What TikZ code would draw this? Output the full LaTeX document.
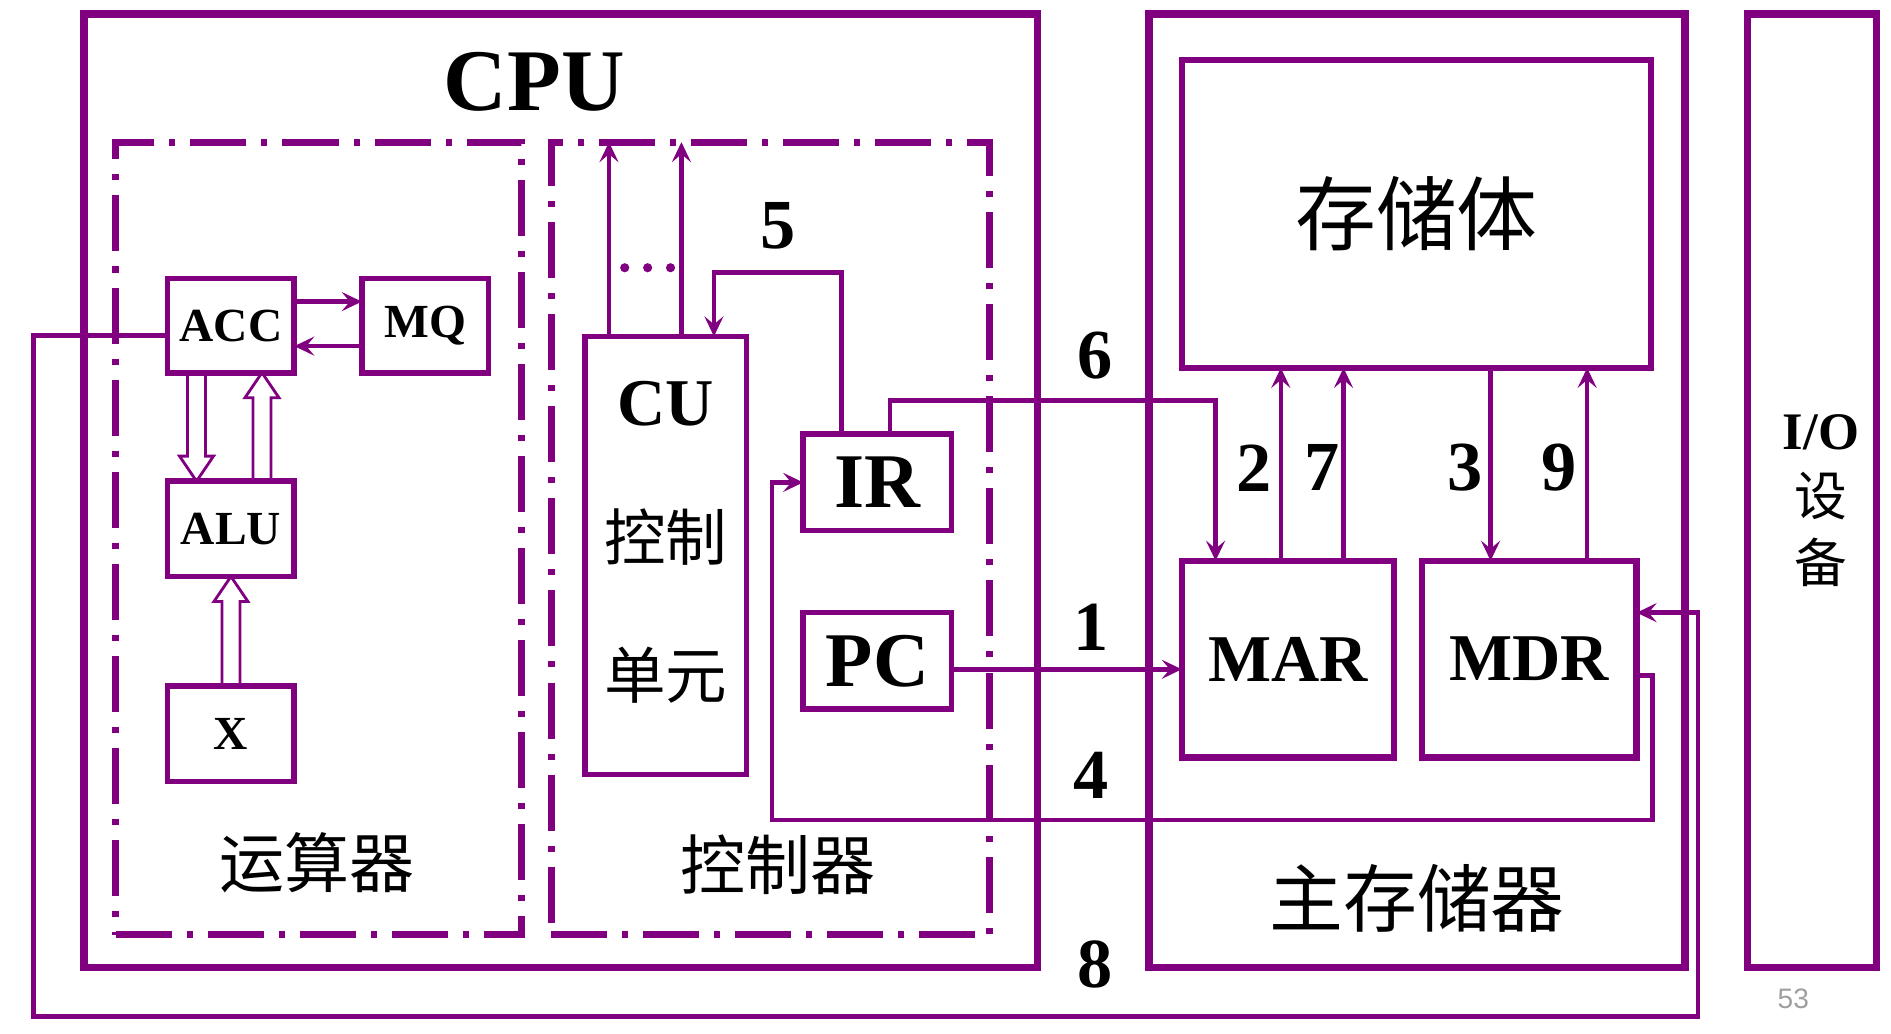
\documentclass[tikz,border=0pt]{standalone}
\usepackage{fontspec}
\setmainfont{Liberation Serif}
\newfontfamily\cjk{Noto Sans CJK SC}
\newfontfamily\pagefont{Liberation Sans}
\usetikzlibrary{arrows.meta,calc,positioning}
\definecolor{framecol}{HTML}{800080}
\newcommand{\fs}[1]{\fontsize{#1}{#1}\selectfont}
% hollow (outlined) vertical arrow from #1 to #2
\newcommand{\HollowArrow}[2]{
  \draw[framecol,line width=0.8pt,line join=miter]
    let \p1=(#1),\p2=(#2),\n1={(\y1-\y2)/abs(\y1-\y2)*0.25cm} in
    ({\x1-0.09cm},\y1)--({\x1-0.09cm},{\y2+\n1})--({\x1-0.17cm},{\y2+\n1})--(\x1,\y2)
    --({\x1+0.17cm},{\y2+\n1})--({\x1+0.09cm},{\y2+\n1})--({\x1+0.09cm},\y1);
}
\tikzset{
  box/.style={draw=framecol,inner sep=0pt,outer sep=0pt},
  frame/.style={box,line width=2.2pt,minimum height=9.527cm},
  dashdot/.style={box,line width=2pt,dash pattern=on 5.6mm off 1.5mm on 0.6mm off 1.5mm},
  reg/.style={box,line width=1.6pt,font=\fs{13.5}\bfseries},
  num/.style={font=\fs{20}\bfseries}
}
\begin{document}
\begin{tikzpicture}[x=0.01206cm,y=-0.01206cm,>={Stealth[length=2mm,width=1.9mm,inset=0.8mm]},draw=framecol,line width=1.3pt]
  \useasboundingbox (0,0) rectangle (1568,857);
  % frames
  \node[frame,minimum width=9.527cm] (cpu) at (465,407) {};
  \node[frame,minimum width=5.355cm] (mainmem) at (1175,407) {};
  \node[frame,minimum width=1.29cm] (io) at (1502.5,407) {};
  \node[font=\fs{25}\bfseries] (cputext) at (443,68) {CPU};
  \node[font=\cjk\fs{21}] (mmtext) at (1175,745) {主存储器};
  \node[align=center,font=\fontsize{15}{19}\selectfont] (iotext) at (1510,415) {\textbf{I/O}\\{\cjk 设}\\{\cjk 备}};
  \node[dashdot,minimum width=4.052cm,minimum height=7.923cm] (aluunit) at (264,446.5) {};
  \node[dashdot,minimum width=4.378cm,minimum height=7.923cm] (ctrlunit) at (638.5,446.5) {};
  \node[font=\cjk\fs{18.5}] (alutext) at (263,715) {运算器};
  \node[font=\cjk\fs{18.5}] (ctrltext) at (645,717) {控制器};
  % registers
  \node[reg,minimum width=1.266cm,minimum height=0.941cm] (acc) at (191.5,270) {ACC};
  \node[reg,minimum width=1.266cm,minimum height=0.941cm] (mq) at (352.5,270) {MQ};
  \node[reg,minimum width=1.266cm,minimum height=0.953cm] (alu) at (191.5,438.5) {ALU};
  \node[reg,minimum width=1.266cm,minimum height=0.953cm] (x) at (191.5,608.5) {X};
  \node[reg,minimum width=1.616cm,minimum height=4.378cm] (cu) at (552,460.5) {};
  \node[font=\fs{19}\bfseries] (cutext) at ([yshift=-0.675cm]cu.north) {CU};
  \node[font=\cjk\fs{17.5}] (cutext2) at ([yshift=0.187cm]cu.center) {控制};
  \node[font=\cjk\fs{17.5}] (cutext3) at ([yshift=-1.2cm]cu.center) {单元};
  \node[reg,font=\fs{22}\bfseries,minimum width=1.483cm,minimum height=0.965cm] (ir) at (727.5,400) {IR};
  \node[reg,font=\fs{22}\bfseries,minimum width=1.483cm,minimum height=0.965cm] (pc) at (727.5,548) {PC};
  \node[reg,line width=1.8pt,font=\cjk\fs{23},minimum width=4.691cm,minimum height=3.075cm] (mem) at (1174.5,177.5) {存储体};
  \node[reg,line width=1.8pt,font=\fs{19}\bfseries,minimum width=2.123cm,minimum height=1.966cm] (mar) at (1068,546.5) {MAR};
  \node[reg,line width=1.8pt,font=\fs{19}\bfseries,minimum width=2.147cm,minimum height=1.966cm] (mdr) at (1268,546.5) {MDR};
  % arithmetic unit
  \draw[->] ([yshift=0.24cm]acc.east) -- ([yshift=0.24cm]mq.west);
  \draw[->] ([yshift=-0.205cm]mq.west) -- ([yshift=-0.205cm]acc.east);
  \HollowArrow{[xshift=-0.344cm]acc.south}{[xshift=-0.344cm]alu.north}
  \HollowArrow{[xshift=0.31cm]alu.north}{[xshift=0.31cm]acc.south}
  \HollowArrow{x.north}{alu.south}
  % control unit
  \draw[->] ([xshift=-0.567cm]cu.north) -- ([xshift=-0.567cm]cu.north |- ctrlunit.north);
  \draw[->] ([xshift=0.157cm]cu.north) -- ([xshift=0.157cm]cu.north |- ctrlunit.north);
  \foreach \x in {518,537,556}
    \fill[framecol] (\x,222) circle (1.3pt);
  \coordinate (c5) at (645,226);
  \draw[->] ([xshift=-0.356cm]ir.north) |- (c5) -| ([xshift=0.482cm]cu.north);
  % buses
  \coordinate (c6) at (900,332);
  \draw[->] ([xshift=0.127cm]ir.north) |- (c6) -| ([xshift=-0.724cm]mar.north);
  \draw[->] ([yshift=-0.084cm]pc.east) -- ([yshift=-0.084cm]pc.east -| mar.west);
  \draw[->] ([xshift=-0.072cm]mar.north) -- ([xshift=-0.072cm]mar.north |- mem.south);
  \draw[->] ([xshift=0.555cm]mar.north) -- ([xshift=0.555cm]mar.north |- mem.south);
  \draw[->] ([xshift=-0.386cm]mdr.north |- mem.south) -- ([xshift=-0.386cm]mdr.north);
  \draw[->] ([xshift=0.579cm]mdr.north) -- ([xshift=0.579cm]mdr.north |- mem.south);
  \coordinate (c4a) at (1370,680);
  \coordinate (c4b) at (640,680);
  \draw[->] ([yshift=-0.163cm]mdr.east) -| (c4a) -- (c4b) |- (ir.west);
  \coordinate (c8a) at (28,843);
  \coordinate (c8b) at (1408,843);
  \draw[->] ([yshift=-0.096cm]acc.west) -| (c8a) -- (c8b) |- ([yshift=0.464cm]mdr.east);
  % step numbers
  \foreach \t/\x/\y in {5/645/187,6/908/295,1/905/520,4/905/643,8/908/800,2/1040/388,7/1096/388,3/1215/388,9/1293/388}
    \node[num] (n\t) at (\x,\y) {\t};
  \node[text=gray!75,font=\pagefont\fs{8}] (pagenum) at (1487,828) {53};
\end{tikzpicture}
\end{document}
